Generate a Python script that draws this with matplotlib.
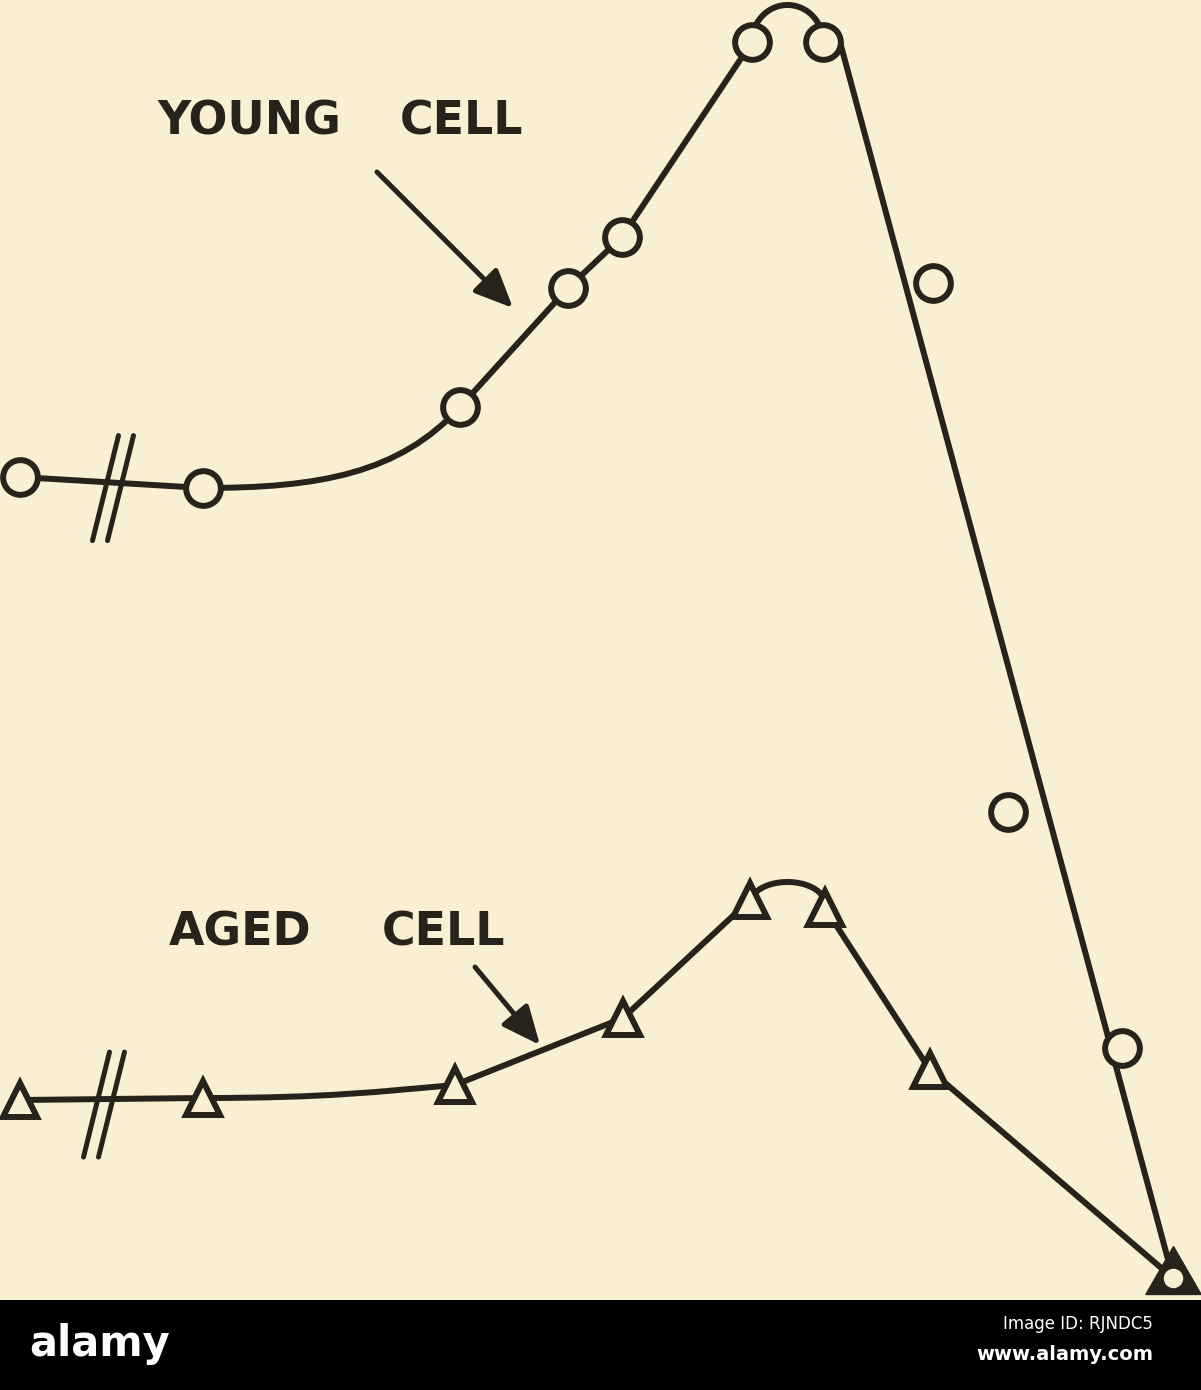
import numpy as np
import matplotlib
matplotlib.use("Agg")
import matplotlib.pyplot as plt
from matplotlib.path import Path
from matplotlib.patches import PathPatch, Rectangle

young_x = [20, 203, 460, 568, 622, 752, 823, 933, 1008, 1122, 1173]
young_y = [823, 812, 893, 1012, 1063, 1258, 1258, 1017, 488, 252, 22]
aged_x = [20, 203, 455, 623, 750, 825, 930, 1173]
aged_y = [200, 202, 215, 282, 400, 392, 230, 22]
break_x = [113, 104]   # young, aged axis-break position

paper = "#f9f0d3"
ink = "#27221c"
lw = 4.3

fig = plt.figure(figsize=(12.01, 13.90), dpi=100, facecolor=paper)
ax = fig.add_axes([0, 90 / 1390, 1, 1300 / 1390])
ax.set_xlim(0, 1201)
ax.set_ylim(0, 1300)
ax.set_facecolor(paper)
ax.axis("off")


def line(xs, ys):
    ax.plot(xs, ys, color=ink, lw=lw, solid_capstyle="round", zorder=2)


def bezier(p0, c1, c2, p1):
    path = Path([p0, c1, c2, p1], [Path.MOVETO, Path.CURVE4, Path.CURVE4, Path.CURVE4])
    ax.add_patch(PathPatch(path, fc="none", ec=ink, lw=lw, zorder=2))


def hump(xa, ya, xb, yb, h):
    # arc joining two neighbouring points over the top
    cx, cy = (xa + xb) / 2, (ya + yb) / 2
    rx = (xb - xa) / 2
    t = np.linspace(np.pi, 0, 60)
    ax.plot(cx + rx * np.cos(t), cy + h * np.sin(t), color=ink, lw=lw, zorder=2)


def axis_break(xb, xa, ya, xc, yc):
    yl = ya + (yc - ya) * (xb - xa) / (xc - xa)
    for cx in (xb - 7.5, xb + 7.5):
        ax.plot([cx - 13, cx + 13], [yl - 58, yl + 47], color=ink, lw=3.6,
                solid_capstyle="round", zorder=3)


# ---- young cell ----
yx, yy = young_x, young_y
line(yx[0:2], yy[0:2])
d = np.array([yx[3] - yx[2], yy[3] - yy[2]], float)
d /= np.hypot(*d)
bezier((yx[1], yy[1]), (yx[1] + 0.45 * (yx[2] - yx[1]), yy[1]),
       (yx[2] - 90 * d[0], yy[2] - 90 * d[1]), (yx[2], yy[2]))
line(yx[2:6], yy[2:6])
hump(yx[5], yy[5], yx[6], yy[6], 37)
line([yx[6] + 17, yx[-1]], [yy[6], yy[-1]])
axis_break(break_x[0], yx[0], yy[0], yx[1], yy[1])
ax.plot(yx[:-1], yy[:-1], ls="none", marker="o", ms=25, mew=lw,
        mec=ink, mfc=paper, zorder=4)

# ---- aged cell ----
ax_, ay = aged_x, aged_y
dx, dy = ax_[2] - ax_[1], ay[2] - ay[1]
line(ax_[0:2], ay[0:2])
bezier((ax_[1], ay[1]), (ax_[1] + 0.5 * dx, ay[1]),
       (ax_[2] - 0.3 * dx, ay[2] - 0.5 * dy), (ax_[2], ay[2]))
line(ax_[2:5], ay[2:5])
hump(ax_[4], ay[4], ax_[5], ay[5], 22)
line(ax_[5:], ay[5:])
axis_break(break_x[1], ax_[0], ay[0], ax_[1], ay[1])
ax.plot(ax_[:-1], ay[:-1], ls="none", marker="^", ms=25, mew=lw,
        mec=ink, mfc=paper, zorder=4)

# shared end point: filled triangle with open circle inside
ax.plot([aged_x[-1]], [aged_y[-1]], marker=(3, 0, 0), ms=46, mew=1, mec=ink, mfc=ink,
        zorder=5, clip_on=False)
ax.plot([young_x[-1]], [young_y[-1]], marker="o", ms=14, mew=0, mfc=paper, zorder=6)

# ---- labels ----
tkw = dict(color=ink, fontsize=33, fontweight="bold", family="DejaVu Sans",
           ha="center", va="center")
ax.text(249, 1178, "YOUNG", **tkw)
ax.text(462, 1178, "CELL", **tkw)
ax.text(240, 367, "AGED", **tkw)
ax.text(443, 367, "CELL", **tkw)

akw = dict(arrowstyle="-|>,head_length=0.9,head_width=0.4", color=ink, lw=3.6,
           mutation_scale=26, shrinkA=0, shrinkB=0)
ax.annotate("", xy=(513, 992), xytext=(377, 1128), arrowprops=akw)
ax.annotate("", xy=(540, 255), xytext=(475, 333), arrowprops=akw)

# ---- banner ----
bx = fig.add_axes([0, 0, 1, 90 / 1390])
bx.set_xlim(0, 1201)
bx.set_ylim(0, 90)
bx.axis("off")
bx.add_patch(Rectangle((0, 0), 1201, 90, color="black"))
bx.text(100, 46, "alamy", color="white", fontsize=30, fontweight="bold",
        family="DejaVu Sans", ha="center", va="center")
bx.text(1153, 66, "Image ID: RJNDC5", color="white", fontsize=12,
        family="DejaVu Sans", ha="right", va="center")
bx.text(1153, 36, "www.alamy.com", color="white", fontsize=14, fontweight="bold",
        family="DejaVu Sans", ha="right", va="center")

fig.savefig("out.png", dpi=100, facecolor=paper)
